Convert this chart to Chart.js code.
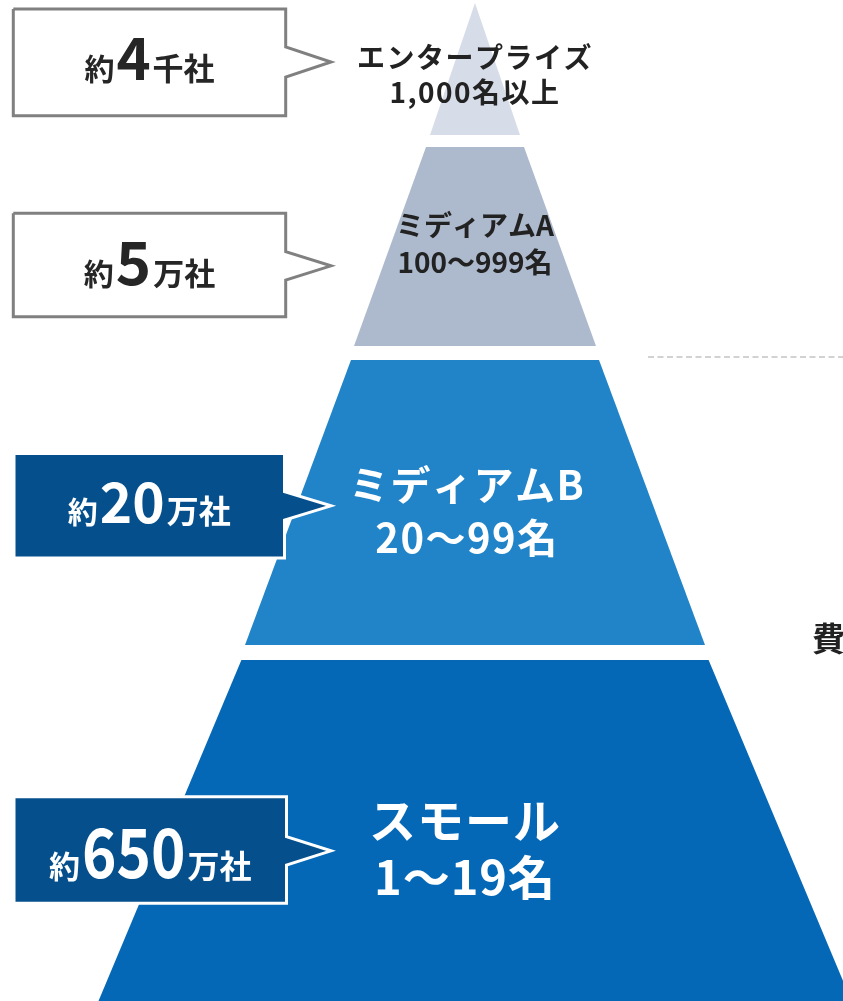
<!DOCTYPE html>
<html><head><meta charset="utf-8">
<script src="https://cdn.jsdelivr.net/npm/chart.js@4.4.1/dist/chart.umd.min.js"></script>
<style>html,body{margin:0;padding:0;background:#fff;}canvas{display:block}</style>
</head><body>
<div style="width:843px;height:1001px"><canvas id="c" width="843" height="1001"></canvas></div>
<script>
// ---- data ----
const tierNames = ['エンタープライズ', 'ミディアムA', 'ミディアムB', 'スモール'];
const tierRanges = ['1,000名以上', '100〜999名', '20〜99名', '1〜19名'];
const countPrefix = ['約', '約', '約', '約'];
const countValues = ['4', '5', '20', '650'];
const countUnits = ['千社', '万社', '万社', '万社'];
const sideText = ['費'];

// ---- layout (positions / sizes / styles) ----
const FONT = '"Noto Sans CJK JP","Noto Sans",sans-serif';
const L = {
  cx: 475,
  tierTop: [3, 147, 360, 660],
  tierBottom: [135, 346, 645, 1001],
  halfTop: [0, 49, 124, 233.6],
  halfBottom: [45, 121, 230, 376.5],
  tierColor: ['#d6dde8', '#adb9cc', '#2184c8', '#0468b7'],
  labelX: [475, 475, 467, 465],
  labelY1: [57, 225, 485, 820],
  labelY2: [92, 262, 538, 877],
  labelSize: [28, 28, 40, 47],
  labelSpacing: [1.5, 0, 1.5, 1],
  labelColor: ['#222222', '#222222', '#ffffff', '#ffffff'],
  box: [
    {l: 13.3, t: 9, r: 285.7, b: 115.7, at: 47, ab: 77, tip: 331},
    {l: 13.3, t: 213.3, r: 285.7, b: 316.7, at: 251.7, ab: 280, tip: 331},
    {l: 14, t: 453.5, r: 284.5, b: 558, at: 491.7, ab: 520, tip: 331},
    {l: 14, t: 796.8, r: 286.5, b: 903.2, at: 836.7, ab: 865, tip: 331}
  ],
  boxFill: ['#ffffff', '#ffffff', '#044f8c', '#044f8c'],
  boxBorder: ['#808080', '#808080', '#ffffff', '#ffffff'],
  boxText: ['#262626', '#262626', '#ffffff', '#ffffff'],
  boxBaseline: [80, 285, 523, 878],
  prefixSize: [30, 30, 30, 31],
  numSize: [58, 60, 55, 68],
  numSqueeze: [1, 1, 1, 0.86],
  unitSize: [31, 31, 32, 32],
  dash: {x0: 648, x1: 843, y: 357},
  side: {x: 812, y: 638, size: 33}
};

function tierPoly(i) {
  const t = L.tierTop[i], b = L.tierBottom[i], ht = L.halfTop[i], hb = L.halfBottom[i];
  return [
    {x: L.cx - ht, y: t}, {x: L.cx + ht, y: t},
    {x: L.cx + hb, y: b}, {x: L.cx - hb, y: b}, {x: L.cx - ht, y: t}
  ];
}
function boxPoly(k) {
  const B = L.box[k], ty = (B.at + B.ab) / 2;
  return [
    {x: B.l, y: B.t}, {x: B.r, y: B.t}, {x: B.r, y: B.at}, {x: B.tip, y: ty},
    {x: B.r, y: B.ab}, {x: B.r, y: B.b}, {x: B.l, y: B.b}, {x: B.l, y: B.t}
  ];
}

const datasets = [];
countValues.forEach((v, k) => {
  datasets.push({
    label: 'callout ' + k, data: boxPoly(k), showLine: true, fill: 'shape',
    backgroundColor: L.boxFill[k], borderColor: L.boxBorder[k], borderWidth: 3,
    borderJoinStyle: 'miter', pointRadius: 0, tension: 0, order: 1
  });
});
tierNames.forEach((n, i) => {
  datasets.push({
    label: n, data: tierPoly(i), showLine: true, fill: 'shape',
    backgroundColor: L.tierColor[i], borderWidth: 0, borderColor: L.tierColor[i],
    pointRadius: 0, tension: 0, order: 5
  });
});
datasets.push({
  label: 'guide', data: [{x: L.dash.x0, y: L.dash.y}, {x: L.dash.x1, y: L.dash.y}],
  showLine: true, fill: false, borderColor: '#c4c4c4', borderWidth: 1.5,
  borderDash: [6, 3.5], pointRadius: 0, order: 6
});

const labelPlugin = {
  id: 'labels',
  afterDatasetsDraw(chart) {
    const {ctx, scales: {x, y}} = chart;
    ctx.save();
    // tier labels
    tierNames.forEach((n, i) => {
      ctx.fillStyle = L.labelColor[i];
      ctx.font = 'bold ' + L.labelSize[i] + 'px ' + FONT;
      ctx.textAlign = 'center';
      ctx.textBaseline = 'middle';
      try { ctx.letterSpacing = L.labelSpacing[i] + 'px'; } catch (e) {}
      const px = x.getPixelForValue(L.labelX[i]);
      ctx.fillText(n, px, y.getPixelForValue(L.labelY1[i]));
      ctx.fillText(tierRanges[i], px, y.getPixelForValue(L.labelY2[i]));
    });
    try { ctx.letterSpacing = '0px'; } catch (e) {}
    // callout texts
    countValues.forEach((v, k) => {
      const B = L.box[k];
      const fP = 'bold ' + L.prefixSize[k] + 'px ' + FONT;
      const fN = 'bold ' + L.numSize[k] + 'px ' + FONT;
      const fU = 'bold ' + L.unitSize[k] + 'px ' + FONT;
      ctx.font = fP; const wP = ctx.measureText(countPrefix[k]).width;
      ctx.font = fN; const wN = ctx.measureText(v).width * L.numSqueeze[k];
      ctx.font = fU; const wU = ctx.measureText(countUnits[k]).width;
      const total = wP + wN + wU + 4;
      const cx = x.getPixelForValue((B.l + B.r) / 2);
      const by = y.getPixelForValue(L.boxBaseline[k]);
      let sx = cx - total / 2;
      ctx.fillStyle = L.boxText[k];
      ctx.textAlign = 'left';
      ctx.textBaseline = 'alphabetic';
      ctx.font = fP; ctx.fillText(countPrefix[k], sx, by); sx += wP + 2;
      ctx.font = fN; ctx.fillText(v, sx, by, wN); sx += wN + 2;
      ctx.font = fU; ctx.fillText(countUnits[k], sx, by);
    });
    // side fragment
    ctx.fillStyle = '#222222';
    ctx.font = 'bold ' + L.side.size + 'px ' + FONT;
    ctx.textAlign = 'left';
    ctx.textBaseline = 'middle';
    ctx.fillText(sideText[0], x.getPixelForValue(L.side.x), y.getPixelForValue(L.side.y));
    ctx.restore();
  }
};

new Chart(document.getElementById('c'), {
  type: 'scatter',
  data: {datasets},
  options: {
    responsive: false, animation: false, events: [],
    layout: {padding: 0},
    plugins: {legend: {display: false}, tooltip: {enabled: false}},
    scales: {
      x: {type: 'linear', min: 0, max: 843, display: false},
      y: {type: 'linear', min: 0, max: 1001, reverse: true, display: false}
    }
  },
  plugins: [labelPlugin]
});
</script>
</body></html>
